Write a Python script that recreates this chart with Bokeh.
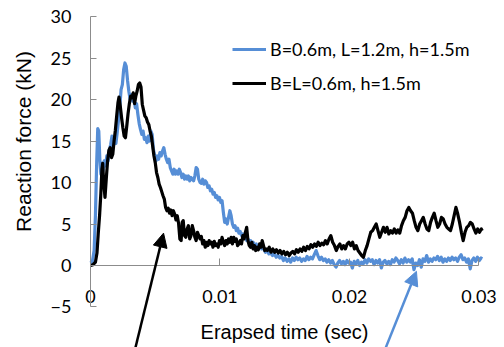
from math import pi

from bokeh.embed import file_html
from bokeh.resources import INLINE
from bokeh.plotting import figure
from bokeh.models import (ColumnDataSource, LinearAxis, FixedTicker, NumeralTickFormatter,
                          Legend, LegendItem, Label, Arrow, NormalHead, Range1d)

# Reaction force histories: time in milliseconds, force in kN
wide_time_ms = [
    0.00, 0.15, 0.28, 0.38, 0.48, 0.56, 0.64, 0.72, 0.80, 0.88, 0.96, 1.06, 1.16, 1.26, 1.36,
    1.46, 1.56, 1.66, 1.76, 1.86, 1.96, 2.06, 2.16, 2.26, 2.36, 2.46, 2.56, 2.66, 2.76, 2.86,
    2.96, 3.06, 3.16, 3.26, 3.36, 3.46, 3.56, 3.66, 3.76, 3.86, 3.96, 4.06, 4.16, 4.26, 4.36,
    4.46, 4.56, 4.66, 4.76, 4.86, 4.96, 5.06, 5.16, 5.26, 5.36, 5.46, 5.56, 5.66, 5.76, 5.86,
    5.96, 6.06, 6.16, 6.26, 6.36, 6.46, 6.56, 6.66, 6.76, 6.86, 6.96, 7.06, 7.16, 7.26, 7.36,
    7.46, 7.56, 7.66, 7.76, 7.86, 7.96, 8.06, 8.16, 8.26, 8.36, 8.46, 8.56, 8.66, 8.76, 8.86,
    8.96, 9.06, 9.16, 9.26, 9.36, 9.46, 9.56, 9.66, 9.76, 9.86, 9.96, 10.06, 10.16, 10.26,
    10.36, 10.46, 10.56, 10.66, 10.76, 10.86, 10.96, 11.06, 11.16, 11.26, 11.36, 11.46, 11.56,
    11.66, 11.76, 11.86, 11.96, 12.06, 12.16, 12.26, 12.36, 12.46, 12.56, 12.66, 12.80, 12.94,
    13.08, 13.22, 13.36, 13.50, 13.64, 13.78, 13.92, 14.06, 14.20, 14.34, 14.48, 14.62, 14.76,
    14.90, 15.04, 15.18, 15.32, 15.46, 15.60, 15.74, 15.88, 16.02, 16.16, 16.30, 16.44, 16.58,
    16.72, 16.86, 17.00, 17.14, 17.28, 17.42, 17.56, 17.70, 17.84, 17.98, 18.12, 18.26, 18.40,
    18.54, 18.68, 18.82, 18.96, 19.10, 19.24, 19.38, 19.52, 19.66, 19.80, 19.94, 20.08, 20.22,
    20.36, 20.50, 20.64, 20.78, 20.92, 21.06, 21.20, 21.34, 21.48, 21.62, 21.76, 21.90, 22.04,
    22.18, 22.32, 22.46, 22.60, 22.74, 22.88, 23.02, 23.16, 23.30, 23.44, 23.58, 23.72, 23.86,
    24.00, 24.14, 24.28, 24.42, 24.56, 24.70, 24.84, 24.98, 25.12, 25.26, 25.40, 25.54, 25.68,
    25.82, 25.96, 26.10, 26.24, 26.38, 26.52, 26.66, 26.80, 26.94, 27.08, 27.22, 27.36, 27.50,
    27.64, 27.78, 27.92, 28.06, 28.20, 28.34, 28.48, 28.62, 28.76, 28.90, 29.04, 29.18, 29.32,
    29.46, 29.60, 29.74, 29.88, 30.02, 30.16, 30.25,
]
wide_force_kn = [
    0.3, 0.5, 1.8, 6.0, 12.5, 16.5, 16.2, 12.8, 11.0, 12.3, 11.4, 12.6, 12.0, 13.2, 12.6,
    13.9, 14.6, 15.6, 14.4, 15.2, 14.7, 16.0, 17.5, 19.0, 21.2, 21.8, 23.6, 24.4, 24.0, 22.3,
    21.0, 20.0, 20.6, 19.8, 20.2, 19.0, 19.5, 18.2, 17.1, 16.4, 15.8, 16.2, 15.2, 15.4, 14.8,
    15.6, 15.0, 16.2, 15.8, 14.0, 13.2, 12.6, 13.2, 12.8, 13.6, 13.2, 13.8, 14.2, 13.4, 12.8,
    12.4, 12.8, 11.8, 11.4, 11.0, 11.6, 11.0, 11.4, 11.0, 11.6, 11.2, 10.6, 11.0, 10.4, 10.8,
    10.4, 10.8, 10.2, 10.6, 10.4, 10.2, 10.8, 11.8, 11.6, 10.4, 10.0, 9.9, 10.4, 9.8, 10.2,
    10.0, 9.4, 9.6, 9.0, 9.2, 8.6, 8.8, 8.2, 8.4, 7.9, 8.2, 7.6, 7.8, 6.4,
    5.2, 5.6, 5.0, 5.8, 6.6, 6.0, 5.0, 4.6, 4.8, 4.2, 4.5, 3.9, 4.1,
    3.6, 3.8, 3.3, 3.5, 3.0, 3.2, 2.8, 3.0, 2.6, 2.8, 2.4, 2.6, 2.2,
    2.4, 2.0, 2.1, 1.6, 1.8, 1.4, 1.5, 1.2, 1.4, 1.0, 1.2, 0.9, 1.1,
    0.6, 0.9, 0.5, 0.8, 0.4, 0.9, 0.6, 1.0, 0.7, 0.9, 0.5, 0.8, 0.6,
    1.1, 0.7, 1.0, 0.8, 1.3, 1.8, 1.2, 0.7, 1.0, 0.6, 0.8, 0.4, 0.7,
    0.3, 0.6, 0.1, -0.2, 0.3, 0.6, 0.2, 0.5, 0.1, 0.6, 0.3, 0.4, -0.3,
    0.5, 0.2, 0.6, 0.0, 0.4, 0.2, 0.7, 0.3, 0.8, 0.5, 0.7, 0.1, 0.6,
    0.3, 0.7, -0.3, 0.4, 0.6, 0.2, 0.5, 0.1, 0.7, 0.4, 0.9, 0.6, 0.2,
    0.7, 0.3, 0.9, 0.4, 0.7, 0.4, 0.8, -0.5, 0.3, 0.0, 0.7, -0.2, 0.8,
    0.5, 1.2, 0.4, 0.8, 0.5, 0.9, 0.7, 1.1, 0.6, 1.0, 0.4, 0.8, 0.5,
    0.9, 0.6, 1.0, 0.7, 0.9, 0.5, 1.0, 1.3, 0.7, 0.9, 0.4, 0.8, -0.4,
    0.6, 0.9, 0.5, 1.0, 0.6, 0.9, 0.8,
]

square_time_ms = [
    0.00, 0.20, 0.38, 0.50, 0.60, 0.70, 0.80, 0.88, 0.94, 1.02, 1.12, 1.22, 1.32, 1.42, 1.52,
    1.62, 1.72, 1.82, 1.92, 2.02, 2.12, 2.20, 2.30, 2.40, 2.50, 2.60, 2.70, 2.80, 2.90, 3.00,
    3.10, 3.20, 3.30, 3.40, 3.50, 3.60, 3.70, 3.80, 3.90, 4.00, 4.10, 4.20, 4.30, 4.40, 4.50,
    4.60, 4.70, 4.80, 4.90, 5.00, 5.10, 5.20, 5.30, 5.40, 5.50, 5.60, 5.70, 5.80, 5.90, 6.00,
    6.10, 6.20, 6.30, 6.40, 6.50, 6.60, 6.70, 6.80, 6.90, 7.00, 7.08, 7.16, 7.26, 7.36, 7.46,
    7.56, 7.66, 7.76, 7.86, 7.96, 8.06, 8.16, 8.26, 8.36, 8.46, 8.56, 8.66, 8.76, 8.86, 8.96,
    9.06, 9.16, 9.26, 9.36, 9.46, 9.56, 9.66, 9.76, 9.86, 9.96, 10.06, 10.16, 10.26, 10.36,
    10.46, 10.56, 10.66, 10.76, 10.86, 10.96, 11.06, 11.16, 11.26, 11.36, 11.46, 11.56, 11.66,
    11.76, 11.86, 11.96, 12.06, 12.16, 12.26, 12.36, 12.46, 12.56, 12.66, 12.76, 12.86, 12.96,
    13.06, 13.16, 13.26, 13.36, 13.46, 13.56, 13.66, 13.80, 13.94, 14.08, 14.22, 14.36, 14.50,
    14.64, 14.78, 14.92, 15.06, 15.20, 15.34, 15.48, 15.62, 15.76, 15.90, 16.04, 16.18, 16.32,
    16.46, 16.60, 16.74, 16.88, 17.02, 17.16, 17.30, 17.44, 17.58, 17.72, 17.86, 18.00, 18.14,
    18.28, 18.42, 18.56, 18.70, 18.84, 18.98, 19.12, 19.26, 19.40, 19.54, 19.68, 19.82, 19.96,
    20.10, 20.24, 20.38, 20.52, 20.66, 20.80, 20.94, 21.08, 21.22, 21.36, 21.50, 21.64, 21.78,
    21.92, 22.06, 22.20, 22.34, 22.48, 22.62, 22.76, 22.90, 23.04, 23.18, 23.32, 23.46, 23.60,
    23.74, 23.88, 24.02, 24.16, 24.30, 24.44, 24.58, 24.72, 24.86, 25.00, 25.14, 25.28, 25.42,
    25.56, 25.70, 25.84, 25.98, 26.12, 26.26, 26.40, 26.54, 26.68, 26.82, 26.96, 27.10, 27.24,
    27.38, 27.52, 27.66, 27.80, 27.94, 28.08, 28.22, 28.36, 28.50, 28.64, 28.78, 28.92, 29.06,
    29.20, 29.34, 29.48, 29.62, 29.76, 29.90, 30.04, 30.18, 30.25,
]
square_force_kn = [
    0.0, 0.1, 0.4, 1.5, 3.9, 6.0, 8.7, 11.6, 12.3, 10.0, 8.2, 10.5, 12.6, 13.9, 14.2,
    13.0, 13.4, 15.0, 16.3, 18.0, 19.6, 20.3, 19.2, 17.8, 16.6, 15.6, 15.4, 16.8, 18.3, 19.5,
    20.4, 20.2, 20.8, 19.5, 20.4, 21.0, 21.8, 22.0, 21.5, 19.4, 18.7, 18.0, 17.8, 17.3, 17.0,
    16.2, 15.6, 14.4, 13.2, 12.4, 11.2, 10.6, 9.8, 9.4, 8.9, 8.4, 8.0, 7.0, 6.6, 6.9,
    6.3, 6.7, 6.0, 6.6, 6.2, 5.5, 6.0, 5.1, 3.2, 3.0, 5.2, 5.4, 3.6, 3.4, 4.4,
    4.8, 3.2, 3.6, 4.8, 4.2, 3.4, 3.0, 4.0, 3.6, 3.2, 3.5, 2.6, 3.0, 2.2, 2.8,
    2.4, 3.0, 2.6, 2.8, 2.2, 2.9, 2.4, 2.6, 2.2, 3.0, 2.6, 3.4, 2.8, 2.4,
    3.0, 2.6, 3.2, 2.8, 3.4, 2.6, 3.4, 2.9, 3.2, 2.4, 2.6, 3.0, 2.6,
    3.6, 3.2, 4.0, 4.6, 3.0, 2.4, 2.2, 2.8, 2.0, 2.4, 1.8, 2.2, 1.9,
    2.6, 2.2, 3.0, 2.4, 1.8, 2.0, 1.8, 2.2, 1.6, 2.0, 1.6, 1.9, 1.5,
    1.8, 1.4, 1.7, 1.3, 1.6, 1.2, 1.5, 1.7, 1.4, 1.9, 1.6, 2.0, 1.7,
    2.2, 1.8, 2.3, 2.0, 2.5, 2.2, 2.6, 2.3, 2.8, 2.4, 2.7, 2.5, 3.0,
    2.6, 3.2, 3.6, 2.8, 2.4, 1.8, 2.3, 2.6, 2.0, 2.4, 2.0, 2.6, 2.8,
    2.4, 2.8, 2.0, 2.4, 1.8, 1.5, 1.2, 1.0, 1.8, 2.4, 3.2, 4.0, 4.2,
    4.6, 5.0, 4.2, 3.4, 4.0, 4.6, 4.0, 4.6, 3.8, 4.2, 3.9, 4.4, 3.9,
    4.3, 3.9, 4.8, 5.4, 5.8, 6.6, 7.0, 6.6, 6.3, 5.4, 4.6, 4.2, 5.0,
    5.4, 5.8, 5.0, 4.4, 4.2, 5.2, 5.8, 6.3, 5.4, 4.6, 5.0, 5.8, 5.6,
    5.0, 4.6, 4.4, 4.2, 5.0, 6.0, 7.0, 6.2, 5.2, 4.0, 3.0, 4.0, 4.6,
    4.8, 5.2, 5.0, 4.4, 3.9, 4.4, 4.0, 4.4, 4.2,
]

series_labels = ["B=0.6m, L=1.2m, h=1.5m", "B=L=0.6m, h=1.5m"]
series_colors = ["#568ED6", "#000000"]

x_ticks = [0.0, 0.01, 0.02, 0.03]
y_ticks = [-5, 0, 5, 10, 15, 20, 25, 30]

# Callout arrows (time in seconds, force in kN): tail -> head
square_arrow = (0.00347, -9.9, 0.00564, 3.9)
wide_arrow = (0.0228, -9.9, 0.02517, -0.7)

W, H = 504, 347
p = figure(width=W, height=H, output_backend="svg", toolbar_location=None,
           x_axis_location=None, y_axis_location=None,
           x_range=Range1d(-0.00695, 0.03197), y_range=Range1d(-9.88, 31.93),
           min_border=0, outline_line_color=None, background_fill_color="white",
           border_fill_color="white")
p.grid.visible = False

src_wide = ColumnDataSource(dict(t=[v / 1000 for v in wide_time_ms], f=wide_force_kn))
src_square = ColumnDataSource(dict(t=[v / 1000 for v in square_time_ms], f=square_force_kn))

r_wide = p.line("t", "f", source=src_wide, line_color=series_colors[0], line_width=3.2,
                line_join="round")
r_square = p.line("t", "f", source=src_square, line_color=series_colors[1], line_width=3.2,
                  line_join="round")

axis_gray = "#8C8C8C"
tick_font = "Lato"

xaxis = LinearAxis(fixed_location=0, bounds=(0, 0.03), ticker=FixedTicker(ticks=x_ticks),
                   formatter=NumeralTickFormatter(format="0.[00]"),
                   axis_line_color=axis_gray, major_tick_line_color=axis_gray,
                   major_tick_in=7, major_tick_out=0, minor_tick_line_color=None,
                   major_label_standoff=24, major_label_text_font=tick_font,
                   major_label_text_font_size="18px", major_label_text_color="#000000",
                   axis_label="Erapsed time (sec)", axis_label_text_font="Liberation Sans",
                   axis_label_text_font_size="20px", axis_label_text_font_style="normal",
                   axis_label_standoff=15, axis_label_text_color="#000000")
p.add_layout(xaxis, "below")

yaxis = LinearAxis(fixed_location=0, bounds=(-5, 30), ticker=FixedTicker(ticks=y_ticks),
                   axis_line_color=axis_gray, major_tick_line_color=axis_gray,
                   major_tick_in=6, major_tick_out=0, minor_tick_line_color=None,
                   major_label_standoff=19, major_label_text_font=tick_font,
                   major_label_text_font_size="18px", major_label_text_color="#000000")
p.add_layout(yaxis, "left")

p.add_layout(Label(x=23, y=H - 141, x_units="screen", y_units="screen",
                   text="Reaction force (kN)", angle=pi / 2, text_align="center",
                   text_baseline="middle", text_font="Liberation Sans",
                   text_font_size="21px", text_color="#000000"))

for (x0, y0, x1, y1), color in ((square_arrow, series_colors[1]), (wide_arrow, series_colors[0])):
    p.add_layout(Arrow(x_start=x0, y_start=y0, x_end=x1, y_end=y1, line_color=color,
                       line_width=2.5,
                       end=NormalHead(size=14, fill_color=color, line_color=color)))

legend = Legend(items=[LegendItem(label=series_labels[0], renderers=[r_wide]),
                       LegendItem(label=series_labels[1], renderers=[r_square])],
                location=(232, H - 94), orientation="vertical", margin=0, padding=0,
                spacing=12, glyph_width=34, glyph_height=20, label_height=20,
                label_standoff=4, label_text_font=tick_font, label_text_font_size="18px",
                label_text_color="#000000", background_fill_alpha=0,
                border_line_alpha=0)
p.add_layout(legend, "center")

open("out.html", "w").write(file_html(p, INLINE))
